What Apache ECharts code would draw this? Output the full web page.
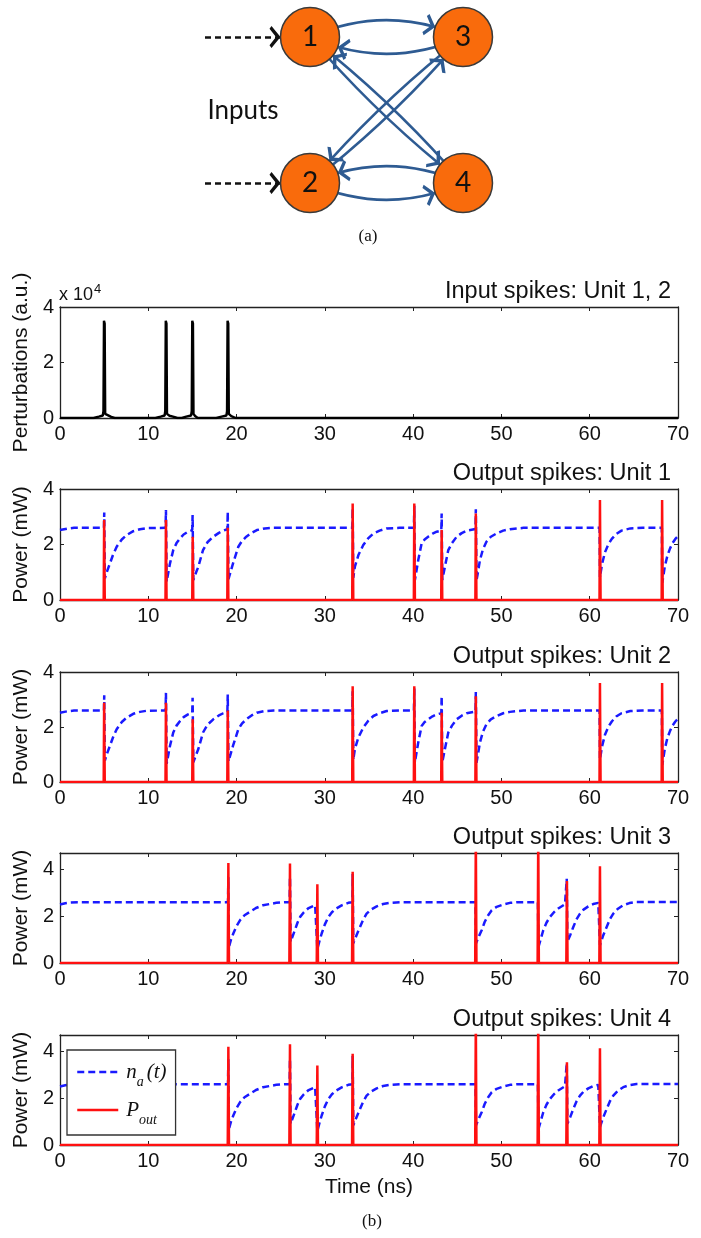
<!DOCTYPE html>
<html>
<head>
<meta charset="utf-8">
<script src="https://cdn.jsdelivr.net/npm/echarts@6/dist/echarts.min.js"></script>
<style>
  html, body { margin: 0; padding: 0; background: #fff; }
  #c { width: 701px; height: 1238px; }
</style>
</head>
<body>
<div id="c"></div>
<script>
// ---------- data ----------
const timeRange = [0, 70];           // ns
const panelTitles = [
  'Input spikes: Unit 1, 2',
  'Output spikes: Unit 1',
  'Output spikes: Unit 2',
  'Output spikes: Unit 3',
  'Output spikes: Unit 4'
];

// perturbation injected into units 1 and 2 (a.u.)
const inputPerturbation = [
  [0, 0], [3.8, 0], [4.4, 500], [4.85, 900], [4.92, 2500], [4.98, 35000], [5.06, 34000], [5.12, 1500], [5.3, 800], [5.8, 400], [6.2, 0],
  [10.8, 0], [11.4, 500], [11.85, 900], [11.92, 2500], [11.98, 35000], [12.06, 34000], [12.12, 1500], [12.4, 800], [12.9, 400], [13.3, 0],
  [13.8, 0], [14.3, 500], [14.85, 900], [14.92, 2500], [14.98, 35000], [15.06, 34000], [15.12, 1500], [15.3, 700], [15.6, 0],
  [17.7, 0], [18.3, 500], [18.85, 900], [18.92, 2500], [18.98, 35000], [19.06, 34000], [19.12, 1500], [19.4, 700], [19.9, 0],
  [70, 0]
];

// unit 1: carrier density n_a(t) and output power P_out (mW)
const unit1Na = [
  [0, 2.52], [0.8, 2.57], [1.6, 2.6], [4.98, 2.6], [5.01, 3.15], [5.08, 0.78], [5.35, 1.05], [5.66, 1.32], [6.0, 1.62], [6.42, 1.92], [7.0, 2.18], [7.55, 2.34], [8.3, 2.48], [9.06, 2.55], [9.8, 2.59], [11.96, 2.6],
  [12.0, 3.24], [12.08, 0.66], [12.46, 1.32], [12.83, 1.8], [13.2, 2.05], [13.6, 2.22], [14.0, 2.36], [14.5, 2.46], [14.98, 2.52],
  [15.02, 3.06], [15.1, 0.72], [15.4, 0.98], [15.67, 1.2], [16.2, 1.8], [16.7, 2.08], [17.36, 2.28], [18.0, 2.42], [18.5, 2.5], [18.96, 2.55],
  [19.0, 3.18], [19.08, 0.75], [19.6, 1.32], [20.2, 1.92], [20.6, 2.12], [21.1, 2.28], [21.7, 2.42], [22.3, 2.52], [23.2, 2.58], [24.2, 2.6], [33.11, 2.6],
  [33.15, 3.3], [33.22, 0.8], [33.4, 1.2], [33.8, 1.62], [34.35, 1.98], [34.9, 2.22], [35.5, 2.4], [36.2, 2.5], [37.0, 2.58], [38.5, 2.6], [40.09, 2.6],
  [40.13, 3.4], [40.2, 0.72], [40.58, 1.44], [40.96, 2.04], [41.3, 2.18], [41.7, 2.28], [42.2, 2.39], [42.67, 2.46], [43.19, 2.5],
  [43.23, 3.12], [43.3, 0.72], [43.6, 1.2], [43.98, 1.8], [44.4, 2.05], [44.93, 2.28], [45.5, 2.41], [46.06, 2.5], [47.06, 2.56],
  [47.1, 3.27], [47.18, 0.7], [47.57, 1.44], [47.9, 1.82], [48.3, 2.1], [48.8, 2.28], [49.46, 2.4], [50.2, 2.5], [50.97, 2.55], [52.5, 2.6], [61.12, 2.6],
  [61.16, 0.82], [61.4, 1.3], [61.73, 1.72], [62.1, 2.0], [62.5, 2.2], [63.0, 2.38], [63.6, 2.5], [64.6, 2.58], [66.0, 2.6], [68.17, 2.6],
  [68.22, 0.62], [68.5, 1.2], [68.8, 1.6], [69.1, 1.86], [69.4, 2.06], [69.7, 2.2], [70, 2.3]
];
const unit1Pout = [
  [0, 0], [4.95, 0], [5.0, 2.88], [5.07, 0], [11.95, 0], [12.0, 2.88], [12.07, 0], [14.98, 0], [15.03, 2.28], [15.1, 0],
  [18.95, 0], [19.0, 2.6], [19.07, 0], [33.1, 0], [33.15, 3.48], [33.22, 0], [40.08, 0], [40.13, 3.48], [40.2, 0],
  [43.18, 0], [43.23, 2.52], [43.3, 0], [47.05, 0], [47.1, 3.12], [47.17, 0], [61.11, 0], [61.16, 3.6], [61.23, 0],
  [68.15, 0], [68.2, 3.6], [68.27, 0], [70, 0]
];

// unit 2
const unit2Na = [
  [0, 2.52], [0.8, 2.57], [1.6, 2.6], [4.98, 2.6], [5.01, 3.15], [5.08, 0.78], [5.35, 1.05], [5.66, 1.32], [6.0, 1.62], [6.42, 1.92], [7.0, 2.18], [7.55, 2.34], [8.3, 2.48], [9.06, 2.55], [9.8, 2.59], [11.96, 2.6],
  [12.0, 3.24], [12.08, 0.66], [12.46, 1.32], [12.83, 1.8], [13.2, 2.05], [13.6, 2.22], [14.0, 2.36], [14.5, 2.46], [14.98, 2.52],
  [15.02, 3.06], [15.1, 0.72], [15.4, 0.98], [15.67, 1.2], [16.2, 1.8], [16.7, 2.08], [17.36, 2.28], [18.0, 2.42], [18.5, 2.5], [18.96, 2.55],
  [19.0, 3.18], [19.08, 0.75], [19.6, 1.32], [20.2, 1.92], [20.6, 2.12], [21.1, 2.28], [21.7, 2.42], [22.3, 2.52], [23.2, 2.58], [24.2, 2.6], [33.11, 2.6],
  [33.15, 3.3], [33.22, 0.8], [33.4, 1.2], [33.8, 1.62], [34.35, 1.98], [34.9, 2.22], [35.5, 2.4], [36.2, 2.5], [37.0, 2.58], [38.5, 2.6], [40.09, 2.6],
  [40.13, 3.4], [40.2, 0.72], [40.58, 1.44], [40.96, 2.04], [41.3, 2.18], [41.7, 2.28], [42.2, 2.39], [42.67, 2.46], [43.19, 2.5],
  [43.23, 3.12], [43.3, 0.72], [43.6, 1.2], [43.98, 1.8], [44.4, 2.05], [44.93, 2.28], [45.5, 2.41], [46.06, 2.5], [47.06, 2.56],
  [47.1, 3.27], [47.18, 0.7], [47.57, 1.44], [47.9, 1.82], [48.3, 2.1], [48.8, 2.28], [49.46, 2.4], [50.2, 2.5], [50.97, 2.55], [52.5, 2.6], [61.12, 2.6],
  [61.16, 0.82], [61.4, 1.3], [61.73, 1.72], [62.1, 2.0], [62.5, 2.2], [63.0, 2.38], [63.6, 2.5], [64.6, 2.58], [66.0, 2.6], [68.17, 2.6],
  [68.22, 0.62], [68.5, 1.2], [68.8, 1.6], [69.1, 1.86], [69.4, 2.06], [69.7, 2.2], [70, 2.3]
];
const unit2Pout = [
  [0, 0], [4.95, 0], [5.0, 2.88], [5.07, 0], [11.95, 0], [12.0, 2.88], [12.07, 0], [14.98, 0], [15.03, 2.28], [15.1, 0],
  [18.95, 0], [19.0, 2.6], [19.07, 0], [33.1, 0], [33.15, 3.48], [33.22, 0], [40.08, 0], [40.13, 3.48], [40.2, 0],
  [43.18, 0], [43.23, 2.52], [43.3, 0], [47.05, 0], [47.1, 3.12], [47.17, 0], [61.11, 0], [61.16, 3.6], [61.23, 0],
  [68.15, 0], [68.2, 3.6], [68.27, 0], [70, 0]
];

// unit 3
const unit3Na = [
  [0, 2.5], [0.6, 2.55], [1.2, 2.58], [2, 2.6], [19.03, 2.6], [19.07, 3.67], [19.14, 0.69], [19.35, 0.98], [19.63, 1.26], [20.0, 1.58], [20.4, 1.83], [20.9, 2.04], [21.5, 2.18], [22.2, 2.35], [23.0, 2.47], [24.5, 2.57], [25.5, 2.6], [26.01, 2.6],
  [26.05, 3.67], [26.12, 0.91], [26.6, 1.4], [26.9, 1.72], [27.2, 1.97], [27.6, 2.16], [28.1, 2.33], [28.9, 2.47], [29.11, 2.5],
  [29.15, 0.6], [29.4, 0.95], [29.64, 1.26], [30.0, 1.65], [30.4, 1.97], [30.8, 2.17], [31.3, 2.33], [31.9, 2.46], [32.65, 2.57], [33.11, 2.6],
  [33.15, 3.8], [33.22, 0.84], [33.6, 1.2], [33.98, 1.54], [34.35, 1.86], [34.73, 2.11], [35.3, 2.3], [35.87, 2.42], [36.6, 2.52], [37.4, 2.57], [38.5, 2.6], [47.06, 2.6],
  [47.12, 0.84], [47.4, 1.1], [47.76, 1.4], [48.1, 1.75], [48.5, 2.04], [48.9, 2.25], [49.46, 2.4], [50.2, 2.5], [50.97, 2.57], [52.0, 2.6], [54.13, 2.6],
  [54.2, 0.69], [54.45, 1.02], [54.74, 1.4], [55.1, 1.72], [55.5, 1.97], [55.95, 2.17], [56.44, 2.33], [57.2, 2.51], [57.37, 2.55],
  [57.4, 3.6], [57.47, 0.91], [57.8, 1.2], [58.14, 1.54], [58.5, 1.86], [58.9, 2.11], [59.3, 2.28], [59.84, 2.42], [60.4, 2.52], [60.97, 2.57], [61.12, 2.58],
  [61.16, 0.77], [61.5, 1.15], [61.92, 1.54], [62.3, 1.88], [62.67, 2.11], [63.2, 2.32], [63.8, 2.47], [64.5, 2.56], [65.3, 2.61], [70, 2.61]
];
const unit3Pout = [
  [0, 0], [19.0, 0], [19.07, 4.27], [19.14, 0], [25.98, 0], [26.05, 4.25], [26.12, 0], [29.08, 0], [29.15, 3.36], [29.22, 0],
  [33.08, 0], [33.15, 3.9], [33.22, 0], [47.03, 0], [47.1, 5.5], [47.17, 0], [54.1, 0], [54.17, 5.5], [54.24, 0],
  [57.35, 0], [57.42, 3.5], [57.49, 0], [61.09, 0], [61.16, 4.13], [61.23, 0], [70, 0]
];

// unit 4
const unit4Na = [
  [0, 2.5], [0.6, 2.55], [1.2, 2.58], [2, 2.6], [19.03, 2.6], [19.07, 3.67], [19.14, 0.69], [19.35, 0.98], [19.63, 1.26], [20.0, 1.58], [20.4, 1.83], [20.9, 2.04], [21.5, 2.18], [22.2, 2.35], [23.0, 2.47], [24.5, 2.57], [25.5, 2.6], [26.01, 2.6],
  [26.05, 3.67], [26.12, 0.91], [26.6, 1.4], [26.9, 1.72], [27.2, 1.97], [27.6, 2.16], [28.1, 2.33], [28.9, 2.47], [29.11, 2.5],
  [29.15, 0.6], [29.4, 0.95], [29.64, 1.26], [30.0, 1.65], [30.4, 1.97], [30.8, 2.17], [31.3, 2.33], [31.9, 2.46], [32.65, 2.57], [33.11, 2.6],
  [33.15, 3.8], [33.22, 0.84], [33.6, 1.2], [33.98, 1.54], [34.35, 1.86], [34.73, 2.11], [35.3, 2.3], [35.87, 2.42], [36.6, 2.52], [37.4, 2.57], [38.5, 2.6], [47.06, 2.6],
  [47.12, 0.84], [47.4, 1.1], [47.76, 1.4], [48.1, 1.75], [48.5, 2.04], [48.9, 2.25], [49.46, 2.4], [50.2, 2.5], [50.97, 2.57], [52.0, 2.6], [54.13, 2.6],
  [54.2, 0.69], [54.45, 1.02], [54.74, 1.4], [55.1, 1.72], [55.5, 1.97], [55.95, 2.17], [56.44, 2.33], [57.2, 2.51], [57.37, 2.55],
  [57.4, 3.5], [57.47, 0.91], [57.8, 1.2], [58.14, 1.54], [58.5, 1.86], [58.9, 2.11], [59.3, 2.28], [59.84, 2.42], [60.4, 2.52], [60.97, 2.57], [61.12, 2.58],
  [61.16, 0.77], [61.5, 1.15], [61.92, 1.54], [62.3, 1.88], [62.67, 2.11], [63.2, 2.32], [63.8, 2.47], [64.5, 2.56], [65.3, 2.61], [70, 2.61]
];
const unit4Pout = [
  [0, 0], [19.0, 0], [19.07, 4.2], [19.14, 0], [25.98, 0], [26.05, 4.3], [26.12, 0], [29.08, 0], [29.15, 3.4], [29.22, 0],
  [33.08, 0], [33.15, 3.9], [33.22, 0], [47.03, 0], [47.1, 5.5], [47.17, 0], [54.1, 0], [54.17, 5.5], [54.24, 0],
  [57.35, 0], [57.42, 3.54], [57.49, 0], [61.09, 0], [61.16, 4.13], [61.23, 0], [70, 0]
];

// network of panel (a)
const nodeIds = ['1', '2', '3', '4'];
const couplings = [['1', '3'], ['3', '1'], ['2', '4'], ['4', '2'], ['1', '4'], ['4', '1'], ['2', '3'], ['3', '2']];
const inputFeeds = [['in1', '1'], ['in2', '2']];

// ---------- styling & layout ----------
const SANS = '"Liberation Sans", Arial, Helvetica, sans-serif';
const SERIF = '"Liberation Serif", "Times New Roman", serif';
const DIAG = 'Lato, "Open Sans", sans-serif';
const INK = '#111';
const AXIS = '#222';
const BLUE = '#1a1aff';
const RED = '#ff1010';
const NA_DASH = [7, 4];

const panels = [
  { top: 307, height: 111, yMax: 40000, yStep: 20000, yName: 'Perturbations (a.u.)', scale: 1e4,
    lines: [{ name: 'input', data: inputPerturbation, color: '#000', width: 2.4 }] },
  { top: 489, height: 111, yMax: 4, yStep: 2, yName: 'Power (mW)',
    lines: [{ name: 'na1', data: unit1Na, dashed: true }, { name: 'pout1', data: unit1Pout }] },
  { top: 672, height: 110, yMax: 4, yStep: 2, yName: 'Power (mW)',
    lines: [{ name: 'na2', data: unit2Na, dashed: true }, { name: 'pout2', data: unit2Pout }] },
  { top: 853, height: 110, yMax: 4.7, yStep: 2, yName: 'Power (mW)', hideMax: true,
    lines: [{ name: 'na3', data: unit3Na, dashed: true }, { name: 'pout3', data: unit3Pout }] },
  { top: 1035, height: 110, yMax: 4.7, yStep: 2, yName: 'Power (mW)', hideMax: true, xName: 'Time (ns)',
    lines: [{ name: 'na', data: unit4Na, dashed: true }, { name: 'pout', data: unit4Pout }] }
];

const grid = [], xAxis = [], yAxis = [], series = [], title = [];
const tick = { show: true, inside: true, length: 4, lineStyle: { color: AXIS, width: 1 } };
const axisLine = { show: true, onZero: false, lineStyle: { color: AXIS, width: 1.3 } };
const labelText = { fontSize: 20, color: INK, fontFamily: SANS };

panels.forEach((p, i) => {
  grid.push({ left: 60, width: 618, top: p.top, height: p.height, containLabel: false, outerBoundsMode: 'none' });
  title.push({
    text: panelTitles[i], right: 30, top: p.top - 27, padding: 0,
    textStyle: { fontSize: 23.5, fontWeight: 'normal', color: INK, fontFamily: SANS }
  });
  xAxis.push({
    type: 'value', gridIndex: i, position: 'bottom', min: timeRange[0], max: timeRange[1], interval: 10,
    axisLine, axisTick: tick, splitLine: { show: false },
    axisLabel: Object.assign({ margin: 6 }, labelText),
    name: p.xName || '', nameLocation: 'middle', nameGap: 32,
    nameTextStyle: { fontSize: 21, color: INK, fontFamily: SANS }
  });
  xAxis.push({
    type: 'value', gridIndex: i, position: 'top', min: timeRange[0], max: timeRange[1], interval: 10,
    axisLine, axisTick: tick, splitLine: { show: false }, axisLabel: { show: false }
  });
  yAxis.push({
    type: 'value', gridIndex: i, position: 'left', min: 0, max: p.yMax, interval: p.yStep,
    axisLine, axisTick: tick, splitLine: { show: false },
    axisLabel: Object.assign({
      margin: 6, showMaxLabel: p.hideMax ? false : null,
      formatter: v => String(p.scale ? v / p.scale : v)
    }, labelText),
    name: p.yName, nameLocation: 'middle', nameGap: 23,
    nameTextStyle: { fontSize: 21, color: INK, fontFamily: SANS }
  });
  yAxis.push({
    type: 'value', gridIndex: i, position: 'right', min: 0, max: p.yMax, interval: p.yStep,
    axisLine, axisTick: tick, splitLine: { show: false }, axisLabel: { show: false }
  });
  p.lines.forEach(l => {
    const isNa = !!l.dashed;
    series.push({
      type: 'line', name: l.name, xAxisIndex: 2 * i, yAxisIndex: 2 * i,
      data: l.data, symbol: 'none', showSymbol: false, smooth: false, animation: false,
      clip: true, z: isNa ? 2 : 3,
      lineStyle: {
        color: l.color || (isNa ? BLUE : RED),
        width: l.width || 2.5,
        type: isNa ? NA_DASH : 'solid'
      },
      itemStyle: { color: l.color || (isNa ? BLUE : RED) }
    });
  });
});

// network diagram (a): nodes, couplings and the two input feeds
const nodePos = { in1: [205, 37], in2: [205, 183], '1': [310, 37], '2': [310, 183], '3': [463, 37], '4': [463, 183] };
const bend = { '1-3': 0.22, '3-1': 0.22, '2-4': -0.22, '4-2': -0.22, '1-4': -0.05, '4-1': -0.05, '2-3': -0.05, '3-2': -0.05 };
// open arrow head whose tip sits at the centre of the symbol box, so it touches the node rim
const chevron = 'path://M10,0 L10.1,0 L10.05,0.1 Z M10,11 L20,20 L17.5,22 L10,15.5 L2.5,22 L0,20 Z';

const graphNodes = nodeIds.map(id => ({
  name: id, x: nodePos[id][0], y: nodePos[id][1], symbol: 'circle', symbolSize: 59,
  itemStyle: { color: '#f96b0c', borderColor: '#3a3a3a', borderWidth: 1.5 },
  label: { show: true, position: 'inside', fontSize: 28, color: INK, fontFamily: DIAG }
})).concat(['in1', 'in2'].map(id => ({
  name: id, x: nodePos[id][0], y: nodePos[id][1], symbol: 'circle', symbolSize: 0.01,
  itemStyle: { opacity: 0 }, label: { show: false }
})));

const graphLinks = couplings.map(([s, t]) => ({
  source: s, target: t,
  lineStyle: { color: '#2e5b92', width: 2.6, curveness: bend[s + '-' + t], opacity: 1 }
})).concat(inputFeeds.map(([s, t]) => ({
  source: s, target: t,
  lineStyle: { color: '#111', width: 2.6, type: [6, 4], curveness: 0, opacity: 1 }
})));

series.push({
  type: 'graph', layout: 'none', left: 205, top: 37, width: 258, height: 146, roam: false, silent: true,
  animation: false, z: 5,
  edgeSymbol: ['none', chevron], edgeSymbolSize: 22,
  data: graphNodes, links: graphLinks,
  emphasis: { disabled: true }
});

const legendIconStyle = { opacity: 0, borderWidth: 0 };
const option = {
  backgroundColor: '#fff',
  animation: false,
  title, grid, xAxis, yAxis, series,
  legend: {
    data: [
      { name: 'na', itemStyle: legendIconStyle, lineStyle: { type: NA_DASH, width: 2.5, color: BLUE } },
      { name: 'pout', itemStyle: legendIconStyle, lineStyle: { type: 'solid', width: 2.5, color: RED } }
    ],
    orient: 'vertical', left: 67, top: 1050,
    itemWidth: 41, itemHeight: 14, itemGap: 4,
    padding: [5, 9, 8, 9],
    backgroundColor: '#fff', borderColor: '#333', borderWidth: 1.3, borderRadius: 0,
    selectedMode: false, z: 10,
    formatter: n => n === 'na' ? '{i|n}{s|a}{i|(t)}' : '{i|P}{s|out}',
    textStyle: {
      color: INK,
      rich: {
        i: { fontFamily: SERIF, fontStyle: 'italic', fontSize: 21, color: INK, lineHeight: 34, padding: [0, 0, 0, 3] },
        s: { fontFamily: SERIF, fontStyle: 'italic', fontSize: 14, color: INK, lineHeight: 14, padding: [20, 0, 0, 0] }
      }
    }
  },
  graphic: [
    { type: 'text', x: 243, y: 111, style: { text: 'Inputs', fontSize: 26, fontFamily: DIAG, fill: INK, align: 'center', verticalAlign: 'middle' } },
    { type: 'text', x: 368, y: 237, style: { text: '(a)', fontSize: 17, fontFamily: SERIF, fill: INK, align: 'center', verticalAlign: 'middle' } },
    { type: 'text', x: 372, y: 1222, style: { text: '(b)', fontSize: 17, fontFamily: SERIF, fill: INK, align: 'center', verticalAlign: 'middle' } },
    { type: 'text', x: 59, y: 295, style: {
        text: '{b|x 10}{s|4}', fill: INK, align: 'left', verticalAlign: 'middle',
        rich: { b: { fontSize: 18, fontFamily: SANS, fill: INK }, s: { fontSize: 13, fontFamily: SANS, fill: INK, padding: [0, 0, 12, 1] } }
      } }
  ]
};

const chart = echarts.init(document.getElementById('c'), null, { renderer: 'canvas', width: 701, height: 1238 });
chart.setOption(option);
</script>
</body>
</html>
